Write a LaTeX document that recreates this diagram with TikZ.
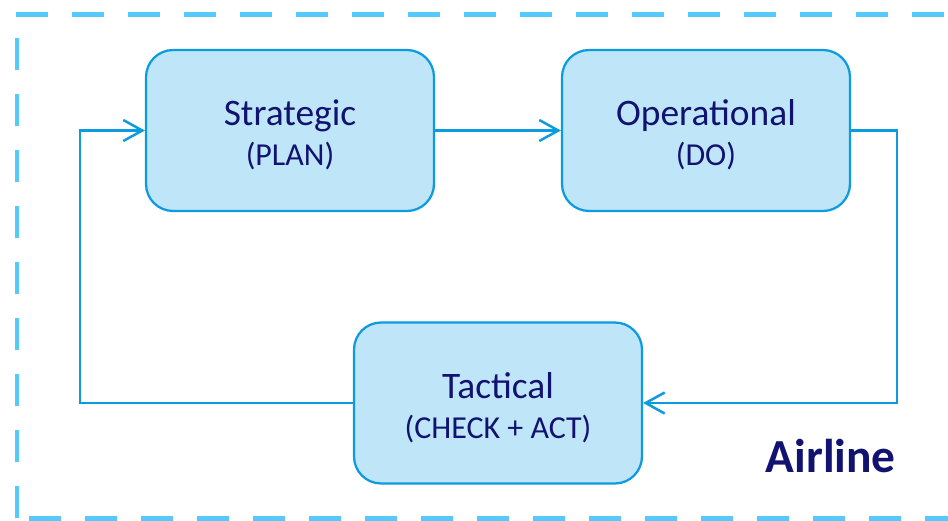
\documentclass[tikz,border=0pt]{standalone}
\usepackage{fontspec}
\setmainfont{Carlito}
\usetikzlibrary{calc}
\usetikzlibrary{arrows.meta}
\usepackage{xcolor}

\definecolor{framecol}{RGB}{85,200,252}
\definecolor{boxfill}{RGB}{190,230,248}
\definecolor{boxline}{RGB}{12,155,222}
\definecolor{textcol}{RGB}{18,18,112}

\tikzset{
  phase/.style={draw=boxline, fill=boxfill, line width=0.045cm, rounded corners=0.54cm,
    minimum width=5.76cm, minimum height=3.22cm, align=center, text=textcol,
    font=\fontsize{21.3}{25}\selectfont},
  flow/.style={draw=boxline, line width=0.05cm, -{Straight Barb[length=0.38cm,width=0.42cm,line width=0.05cm]}},
  frameline/.style={draw=framecol, line width=0.1cm, dash pattern=on 0.64cm off 0.48cm}
}

\newcommand{\sub}[1]{\rule{0pt}{0.70cm}\\[-0.08cm]{\fontsize{18.2}{21}\selectfont #1}}

\begin{document}
\begin{tikzpicture}[x=0.02cm,y=-0.02cm]
\useasboundingbox (0,0) rectangle (948,521);
% dashed frame
\draw[frameline] (16,14) -- (948,14);
\draw[frameline, dash phase=0.64cm] (17,14) -- (17,521);
\draw[frameline, dash phase=0.88cm] (17,518) -- (948,518);

\node[phase] (strategic) at (290,130.5) {Strategic\sub{(PLAN)}};
\node[phase] (operational) at (706,130.5) {Operational\sub{(DO)}};
\node[phase] (tactical) at (498,403) {Tactical\sub{(CHECK + ACT)}};

\coordinate (ne) at (897,130.5);
\coordinate (se) at (897,403);
\coordinate (sw) at (80,403);
\coordinate (nw) at (80,130.5);

\draw[flow] (strategic) -- (operational);
\draw[flow] (operational.east) -- (ne) -- (se) -- (tactical.east);
\draw[flow] (tactical.west) -- (sw) -- (nw) -- (strategic.west);

\node[text=textcol, font=\fontsize{27}{31}\selectfont\bfseries, anchor=base east] (airline) at (902,472) {Airline};
\end{tikzpicture}
\end{document}
